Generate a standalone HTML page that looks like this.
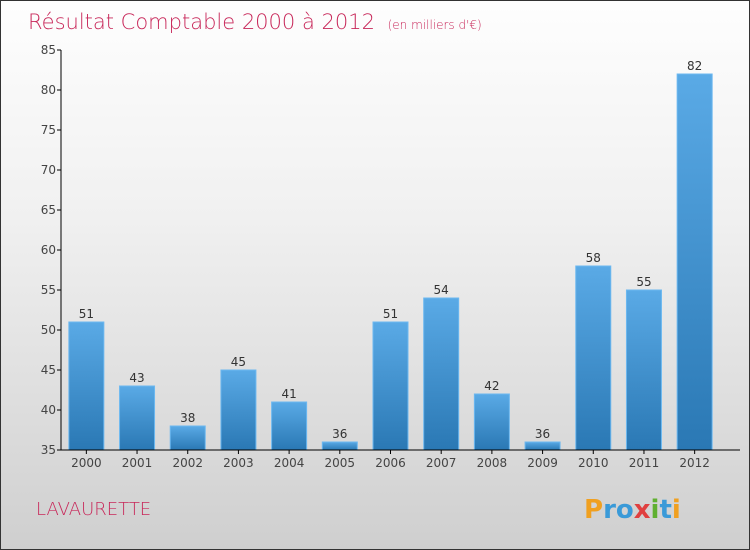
<!DOCTYPE html>
<html><head><meta charset="utf-8"><style>
body{margin:0}
#c{width:748px;height:548px;border:1px solid #333;background:linear-gradient(#fefefe,#f0f0f0 40%,#cfcfcf);position:relative;font-family:"DejaVu Sans","Liberation Sans",sans-serif;overflow:hidden}
</style></head><body>
<div id="c">
<svg id="s" width="748" height="548">
<defs><linearGradient id="g" x1="0" y1="0" x2="0" y2="1"><stop offset="0" stop-color="#5aaae6"/><stop offset="1" stop-color="#2a78b4"/></linearGradient></defs>
<text x="27" y="28" font-size="21" fill="#c8285a" style="font-family:'DejaVu Sans',sans-serif;font-weight:200">Résultat Comptable 2000 à 2012 <tspan font-size="12" dx="6">(en milliers d'€)</tspan></text>
<text x="35" y="514" font-size="18" fill="#c8285a" style="font-weight:200">LAVAURETTE</text>
<text x="583" y="517" font-size="26" font-weight="bold"><tspan fill="#f0a020">P</tspan><tspan fill="#3a9ad8">ro</tspan><tspan fill="#e04040">x</tspan><tspan fill="#60b030">i</tspan><tspan fill="#3a9ad8">t</tspan><tspan fill="#f0a020">i</tspan></text>
<g id="plot"></g>
</svg></div>
<script>
const years=["2000","2001","2002","2003","2004","2005","2006","2007","2008","2009","2010","2011","2012"];
const values=[51,43,38,45,41,36,51,54,42,36,58,55,82];
const yTicks=[35,40,45,50,55,60,65,70,75,80,85];
const ns="http://www.w3.org/2000/svg";
const p=document.getElementById('plot');
const x0=60,x1=719,yMin=35,yMax=85,yb=449,yt=49;
const y=v=>yb-(v-yMin)/(yMax-yMin)*(yb-yt);
const band=(x1-x0)/years.length,bw=35;
function mk(t,a,txt){const e=document.createElementNS(ns,t);for(const k in a)e.setAttribute(k,a[k]);if(txt!=null)e.textContent=txt;p.appendChild(e);return e;}
yTicks.forEach(v=>{
 const l=mk('line',{x1:x0-4,x2:x0,y1:y(v),y2:y(v),stroke:'#000'});
 
 
 const t=mk('text',{x:x0-5,y:y(v)+4,'text-anchor':'end','font-size':12,fill:'#444'},v);
 
 
});
years.forEach((yr,i)=>{
 const bx=x0+i*band+(band-bw)/2,v=values[i];
 const r=mk('rect',{x:bx,y:y(v),width:bw,height:yb-y(v),fill:'url(#g)',stroke:'#6cb8f0','stroke-width':1});
 
 
 const t=mk('text',{x:bx+bw/2,y:y(v)-4,'text-anchor':'middle','font-size':12,fill:'#333'},v);
 
 
 const tk=mk('line',{x1:x0+(i+0.5)*band,x2:x0+(i+0.5)*band,y1:yb,y2:yb+4,stroke:'#000'});
 
 
 const xl=mk('text',{x:x0+(i+0.5)*band,y:yb+17,'text-anchor':'middle','font-size':12,fill:'#444'},yr);
 
 
});
const ax=mk('path',{d:`M${x0} ${yt}V${yb}H${x1+20}`,fill:'none',stroke:'#000'});


</script>
</body></html>
